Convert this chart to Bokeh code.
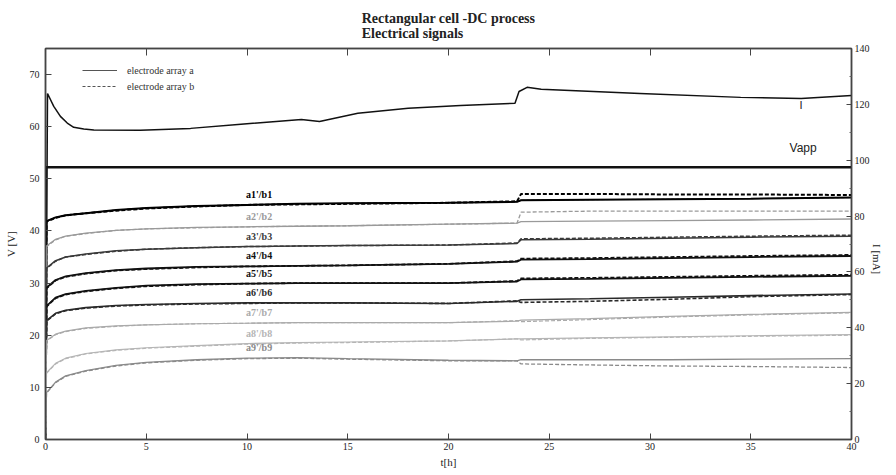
import math
from bokeh.plotting import figure
from bokeh.models import Range1d, LinearAxis, Legend, LegendItem, FixedTicker
from bokeh.embed import file_html
from bokeh.resources import INLINE
from bokeh.core.properties import value

# ---------------- data ----------------
t = [0, 0.05, 0.5, 1, 2, 3.5, 5, 7.5, 10, 12.5, 15, 20, 23.4, 23.6, 27, 31, 35, 40]

a1 = [0, 41.9, 42.6, 43.0, 43.4, 44.0, 44.4, 44.8, 45.0, 45.2, 45.3, 45.4, 45.6, 45.9, 46.0, 46.1, 46.2, 46.4]
b1 = [0, 41.8, 42.5, 43.0, 43.4, 43.9, 44.3, 44.7, 45.0, 45.1, 45.2, 45.4, 45.7, 47.1, 47.1, 47.0, 47.0, 46.9]
a2 = [0, 37.1, 38.4, 39.0, 39.6, 40.1, 40.4, 40.7, 40.8, 40.9, 41.0, 41.3, 41.5, 41.8, 41.9, 42.0, 42.1, 42.3]
b2 = [0, 37.0, 38.3, 39.0, 39.5, 40.1, 40.4, 40.6, 40.8, 40.9, 41.0, 41.3, 41.5, 43.6, 43.8, 43.8, 43.8, 43.8]
a3 = [0, 32.9, 34.3, 35.0, 35.6, 36.2, 36.5, 36.8, 37.0, 37.1, 37.2, 37.3, 37.6, 38.3, 38.4, 38.6, 38.8, 39.0]
b3 = [0, 32.8, 34.2, 35.0, 35.5, 36.1, 36.5, 36.8, 37.0, 37.1, 37.2, 37.3, 37.7, 38.5, 38.6, 38.8, 39.0, 39.2]
a4 = [0, 29.1, 30.6, 31.3, 31.9, 32.5, 32.8, 33.1, 33.2, 33.3, 33.4, 33.7, 34.1, 34.5, 34.6, 34.8, 35.0, 35.2]
b4 = [0, 29.0, 30.5, 31.2, 31.8, 32.4, 32.7, 33.0, 33.2, 33.3, 33.4, 33.7, 34.2, 34.7, 34.8, 35.0, 35.2, 35.4]
a5 = [0, 25.6, 27.2, 27.9, 28.5, 29.1, 29.5, 29.8, 29.9, 30.0, 30.0, 30.0, 30.3, 30.7, 30.8, 31.0, 31.2, 31.4]
b5 = [0, 25.5, 27.1, 27.8, 28.4, 29.0, 29.4, 29.7, 29.9, 30.0, 30.0, 30.0, 30.4, 30.9, 31.0, 31.2, 31.4, 31.6]
a6 = [0, 22.8, 24.2, 24.8, 25.3, 25.7, 25.9, 26.1, 26.2, 26.2, 26.2, 26.1, 26.5, 26.8, 27.0, 27.3, 27.6, 27.9]
b6 = [0, 22.7, 24.1, 24.7, 25.2, 25.6, 25.8, 26.0, 26.1, 26.2, 26.2, 26.1, 26.6, 26.3, 26.5, 26.9, 27.4, 27.8]
a7 = [0, 19.0, 20.2, 20.8, 21.4, 21.8, 22.0, 22.2, 22.3, 22.4, 22.4, 22.4, 22.7, 22.9, 23.2, 23.6, 24.0, 24.4]
b7 = [0, 18.9, 20.1, 20.7, 21.3, 21.7, 22.0, 22.2, 22.3, 22.4, 22.4, 22.4, 22.8, 22.6, 23.0, 23.5, 23.9, 24.3]
a8 = [0, 12.8, 14.6, 15.6, 16.5, 17.2, 17.6, 18.0, 18.4, 18.6, 18.7, 18.9, 19.3, 19.3, 19.5, 19.7, 19.9, 20.1]
b8 = [0, 12.7, 14.5, 15.5, 16.4, 17.1, 17.5, 17.9, 18.3, 18.5, 18.6, 18.9, 19.3, 19.1, 19.4, 19.6, 19.8, 20.0]
a9 = [0, 9.0, 11.0, 12.2, 13.2, 14.2, 14.8, 15.3, 15.6, 15.7, 15.5, 15.2, 15.1, 15.3, 15.3, 15.3, 15.4, 15.5]
b9 = [0, 8.9, 10.9, 12.1, 13.1, 14.1, 14.7, 15.2, 15.5, 15.6, 15.4, 15.1, 15.1, 14.5, 14.3, 14.1, 14.0, 13.8]

curve_labels = ["a1'/b1", "a2'/b2", "a3'/b3", "a4'/b4", "a5'/b5",
                "a6'/b6", "a7'/b7", "a8'/b8", "a9'/b9"]

t_I = [0, 0.1, 0.41, 0.74, 1.08, 1.4, 1.9, 2.4, 4.7, 7.2, 9.7, 12.7, 13.6, 15.5, 18,
       20.6, 23.3, 23.5, 23.9, 24.6, 29.5, 34.5, 37.5, 40]
I_mA = [0, 123.9, 119.3, 115.7, 113.3, 111.8, 111.2, 110.8, 110.7, 111.4, 112.9, 114.6,
        113.9, 116.8, 118.6, 119.6, 120.4, 124.6, 126.1, 125.4, 123.9, 122.5, 122.1, 123.2]

t_vapp = [0, 0.02, 40]
vapp = [0, 52.2, 52.2]

x_ticks = [0, 5, 10, 15, 20, 25, 30, 35, 40]
v_ticks = [0, 10, 20, 30, 40, 50, 60, 70]
i_ticks = [0, 20, 40, 60, 80, 100, 120, 140]

# ---------------- styles ----------------
SERIF = "Liberation Serif"
SANS = "Liberation Sans"
colors = ["#000000", "#9a9a9a", "#3a3a3a", "#111111", "#111111",
          "#2a2a2a", "#aaaaaa", "#b5b5b5", "#8a8a8a"]
widths = [2.0, 1.3, 1.5, 1.8, 1.8, 1.6, 1.2, 1.2, 1.3]

p = figure(width=896, height=475, x_range=Range1d(0, 40), y_range=Range1d(0, 75),
           output_backend="svg", toolbar_location=None,
           min_border_left=45, min_border_right=45, min_border_top=47,
           min_border_bottom=36)
p.extra_y_ranges = {"I": Range1d(0, 140)}
p.grid.visible = False
p.outline_line_color = "#555555"
p.outline_line_width = 1.5

p.title.text = "Rectangular cell -DC process\nElectrical signals"
p.title.align = "center"
p.title.text_font = SERIF
p.title.text_font_size = "14px"
p.title.text_font_style = "bold"
p.title.text_color = "#222222"
p.title.text_line_height = 1.0
p.title.standoff = 16


def style_axis(ax):
    ax.axis_line_color = "#444444"
    ax.axis_line_width = 1.5
    ax.major_tick_in = 6
    ax.major_tick_out = 0
    ax.minor_tick_in = 0
    ax.minor_tick_out = 0
    ax.major_tick_line_color = "#444444"
    ax.major_label_text_font = SERIF
    ax.major_label_text_font_size = "10px"
    ax.major_label_text_color = "#222222"
    ax.axis_label_text_font = SERIF
    ax.axis_label_text_font_size = "11px"
    ax.axis_label_text_font_style = "normal"
    ax.axis_label_text_color = "#222222"


xa = p.xaxis[0]
xa.ticker = FixedTicker(ticks=x_ticks)
style_axis(xa)
xa.major_label_standoff = 3
xa.axis_label = "t[h]"
xa.axis_label_standoff = 3

ya = p.yaxis[0]
ya.ticker = FixedTicker(ticks=v_ticks)
style_axis(ya)
ya.major_label_standoff = 6
ya.axis_label = "V [V]"
ya.axis_label_standoff = 10

ra = LinearAxis(y_range_name="I",
                ticker=FixedTicker(ticks=i_ticks, minor_ticks=[v + 10 for v in i_ticks[:-1]]))
style_axis(ra)
ra.major_tick_in = 5
ra.minor_tick_in = 2
ra.minor_tick_line_color = "#666666"
ra.major_label_standoff = 3
ra.axis_label = "I [mA]"
ra.axis_label_standoff = 4
ra.axis_label_orientation = -math.pi / 2
p.add_layout(ra, "right")

ta = LinearAxis(ticker=FixedTicker(ticks=[], minor_ticks=x_ticks))
style_axis(ta)
ta.minor_tick_in = 7
ta.minor_tick_line_color = "#444444"
p.add_layout(ta, "above")

# legend sample renderers (kept underneath the thicker a1 line)
r_a = p.line(t, a1, line_color="#555555", line_width=1)
r_b = p.line(t, a1, line_color="#555555", line_width=1, line_dash="3 2")

# Vapp and current
p.line(t_vapp, vapp, line_color="#111111", line_width=2.5)
p.line(t_I, I_mA, line_color="#111111", line_width=1.5, y_range_name="I")

a_series = [a1, a2, a3, a4, a5, a6, a7, a8, a9]
b_series = [b1, b2, b3, b4, b5, b6, b7, b8, b9]
for k in range(9):
    p.line(t, a_series[k], line_color=colors[k], line_width=widths[k])
    p.line(t, b_series[k], line_color=colors[k], line_width=widths[k], line_dash="4 2")
    p.text(x=[10.6], y=[a_series[k][8]], text=[curve_labels[k]],
           text_font=value(SERIF), text_font_size="10px", text_font_style="bold",
           text_color=colors[k], text_align="center", text_baseline="bottom",
           y_offset=-5)

p.text(x=[37.6], y=[vapp[-1]], text=["Vapp"], text_font=value(SANS),
       text_font_size="12px", text_color="#222222", text_align="center",
       text_baseline="bottom", y_offset=-12)
p.text(x=[37.5], y=[I_mA[-2]], text=["I"], text_font=value(SANS),
       text_font_size="11px", text_color="#222222", text_align="center",
       text_baseline="top", y_offset=1, y_range_name="I")

leg = Legend(items=[LegendItem(label="electrode array a", renderers=[r_a]),
                    LegendItem(label="electrode array b", renderers=[r_b])],
             location=(37, 346), padding=0, margin=0, spacing=2,
             glyph_width=35, glyph_height=14, label_height=14, label_standoff=10,
             label_text_font=SERIF, label_text_font_size="10px",
             label_text_color="#333333",
             background_fill_alpha=0, border_line_alpha=0)
p.add_layout(leg)

open("out.html", "w").write(file_html(p, INLINE))
